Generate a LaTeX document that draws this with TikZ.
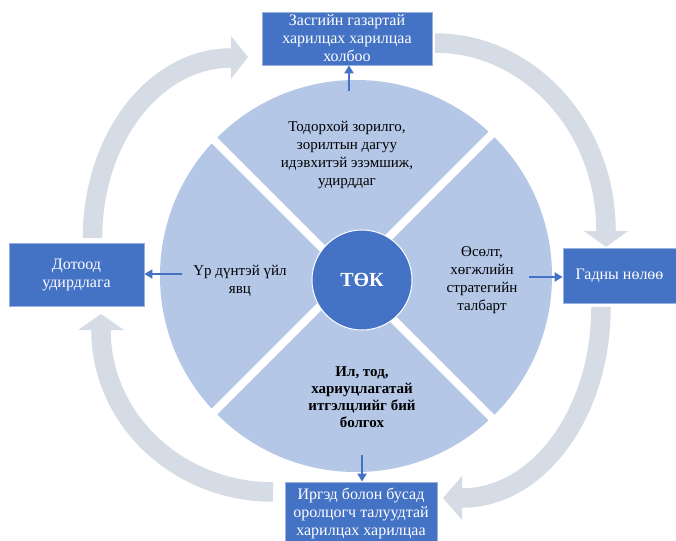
\documentclass[tikz,border=0pt]{standalone}
\usepackage{fontspec}
\setmainfont{Liberation Serif}
\usetikzlibrary{arrows.meta,calc}
\definecolor{boxblue}{HTML}{4472C4}
\definecolor{piefill}{HTML}{B4C7E7}
\definecolor{arrgray}{HTML}{D6DCE5}
\begin{document}
\begin{tikzpicture}[x=1pt,y=-1pt,
  bluebox/.style={fill=boxblue, draw=boxblue!55!white, line width=0.8pt, text=white,
    align=center, inner sep=0pt, font=\fontsize{16}{18}\selectfont},
  pietext/.style={align=center, inner sep=0pt, font=\fontsize{15}{18}\selectfont},
  bluearrow/.style={draw=boxblue, line width=2.5pt, -{Triangle[length=8pt,width=9pt]}},
  bigshaft/.style={draw=arrgray, line width=19.5pt},
  bighead/.style={fill=arrgray}]
\useasboundingbox (0,0) rectangle (676,540);
\clip (0,0) rectangle (676,540);
\fill[white] (0,0) rectangle (676,540);

% curved grey arrows
\draw[bigshaft] (92.5,238) arc[start angle=180,end angle=270,x radius=138.5,y radius=180];
\fill[bighead] (231,36) -- (248,57) -- (231,79) -- cycle;
\draw[bigshaft] (435,43) arc[start angle=270,end angle=360,x radius=171,y radius=188];
\fill[bighead] (584,231) -- (606,247) -- (628,231) -- cycle;
\draw[bigshaft] (601,307) arc[start angle=0,end angle=90,x radius=139,y radius=191];
\fill[bighead] (462,476) -- (443,498) -- (462,520) -- cycle;
\draw[bigshaft] (273,492) arc[start angle=90,end angle=180,x radius=172,y radius=162];
\fill[bighead] (78,330) -- (101,314) -- (124,330) -- cycle;

% pie
\fill[piefill] (356,276) circle[radius=196];
\coordinate (gc) at (350,276);
\draw[white, line width=8pt] ($(gc)+(-150,-150)$) -- ($(gc)+(150,150)$);
\draw[white, line width=8pt] ($(gc)+(150,-150)$) -- ($(gc)+(-150,150)$);
\node[circle, fill=boxblue, draw=white, line width=1pt, minimum size=100pt, inner sep=0pt,
  text=white, font=\bfseries\fontsize{20}{24}\selectfont] (tok) at (362,280) {ТӨК};

% sector texts
\node[pietext] (ttop) at (347,155) {Тодорхой зорилго,\\зорилтын дагуу\\идэвхитэй эзэмшиж,\\удирддаг};
\node[pietext] (tleft) at (240,281) {Үр дүнтэй үйл\\явц};
\node[pietext] (tright) at (482,280) {Өсөлт,\\хөгжлийн\\стратегийн\\талбарт};
\node[pietext, font=\bfseries\fontsize{15}{17}\selectfont] (tbot) at (362,397) {Ил, тод,\\хариуцлагатай\\итгэлцлийг бий\\болгох};

% boxes
\node[bluebox, minimum width=170pt, minimum height=53pt] (topbox) at (347,38.5) {Засгийн газартай\\харилцах харилцаа\\холбоо};
\node[bluebox, minimum width=135pt, minimum height=63pt] (leftbox) at (76.5,274.5) {Дотоод\\удирдлага};
\node[bluebox, minimum width=113pt, minimum height=55pt] (rightbox) at (619.5,275.5) {Гадны нөлөө};
\node[bluebox, minimum width=152pt, minimum height=62pt] (botbox) at (361,513) {Иргэд болон бусад\\оролцогч талуудтай\\харилцах харилцаа};

% blue connectors
\coordinate (atop) at (349,91);
\coordinate (aleft) at (182,274);
\coordinate (aright) at (529,277);
\coordinate (abot) at (362,455);
\draw[bluearrow] (atop) -- (atop |- topbox.south);
\draw[bluearrow] (aleft) -- (aleft -| leftbox.east);
\draw[bluearrow] (aright) -- (aright -| rightbox.west);
\draw[bluearrow] (abot) -- (abot |- botbox.north);
\end{tikzpicture}
\end{document}
